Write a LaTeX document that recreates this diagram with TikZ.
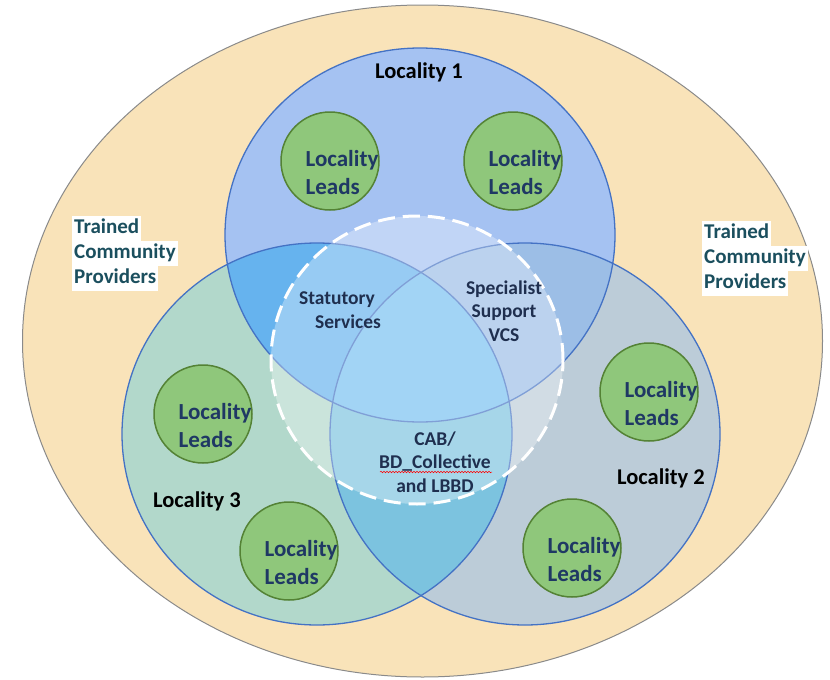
\documentclass[tikz,border=0pt]{standalone}
\usepackage{fontspec}
\setmainfont{Carlito}
\usetikzlibrary{decorations.pathmorphing}
\definecolor{outerfill}{HTML}{F9E3B9}
\definecolor{outerline}{HTML}{8A8A8A}
\definecolor{conly}{HTML}{A5C2F2}
\definecolor{tonly}{HTML}{B2D8CB}
\definecolor{bonly}{HTML}{BCCCD8}
\definecolor{cot}{HTML}{66B3EE}
\definecolor{cob}{HTML}{9CBEE6}
\definecolor{tob}{HTML}{7CC3DF}
\definecolor{tri}{HTML}{77C0F1}
\definecolor{ringline}{HTML}{4472C4}
\definecolor{leadfill}{HTML}{8FC77B}
\definecolor{leadline}{HTML}{548235}
\definecolor{navy}{HTML}{1F3864}
\definecolor{teal}{HTML}{1B4F5E}
\definecolor{darklab}{HTML}{1F2F4F}
\tikzset{
  pA/.style={insert path={(420,235) ellipse [x radius=195pt, y radius=187pt]}},
  pB/.style={insert path={(525,434) ellipse [x radius=195pt, y radius=191pt]}},
  pC/.style={insert path={(317,434) ellipse [x radius=195pt, y radius=191pt]}},
  pD/.style={insert path={(417,360) ellipse [x radius=146pt, y radius=144pt]}},
  leadcirc/.style={circle, minimum size=98pt, inner sep=0pt, fill=leadfill, draw=leadline, line width=1.5pt},
  leadtxt/.style={align=left, inner sep=0pt, text=navy, font=\fontsize{23}{28}\selectfont\bfseries},
  loctxt/.style={inner sep=0pt, text=black, font=\fontsize{22.5}{26}\selectfont\bfseries},
  midtxt/.style={align=center, inner sep=0pt, text=darklab, font=\fontsize{19.5}{23.5}\selectfont\bfseries},
  hl/.style={anchor=west, fill=white, inner xsep=2pt, inner ysep=2pt, text height=16pt, text depth=5pt, text=teal, font=\fontsize{21}{25}\selectfont\bfseries},
  ring/.style={draw=ringline, line width=1.3pt}
}
\begin{document}
\begin{tikzpicture}[x=1pt,y=-1pt]
\useasboundingbox (0,0) rectangle (830,680);
% outer ellipse
\path[fill=outerfill, draw=outerline, line width=1pt] (422.5,341) ellipse [x radius=400pt, y radius=336pt];
% single regions
\fill[tonly][pC];
\fill[bonly][pB];
\fill[conly][pA];
% pairwise and triple
\begin{scope}
  \clip[pB];
  \fill[tob][pC];
\end{scope}
\begin{scope}
  \clip[pA];
  \fill[cot][pC];
  \fill[cob][pB];
  \clip[pC];
  \fill[tri][pB];
\end{scope}
% borders
\draw[ring][pC];
\draw[ring][pB];
\draw[ring][pA];
% dashed central circle
\fill[white, opacity=0.32][pD];
\draw[white, line width=3pt, dash pattern=on 17pt off 8pt][pD];
% locality leads
\node[leadcirc] (l1) at (330,161) {};
\node[leadcirc] (l2) at (513,161) {};
\node[leadcirc] (l3) at (203,414) {};
\node[leadcirc] (l4) at (289,551) {};
\node[leadcirc] (l5) at (649,392) {};
\node[leadcirc] (l6) at (572,548) {};
\node[leadtxt] (t1) at ([shift={(12,12)}]l1.center) {Locality\\Leads};
\node[leadtxt] (t2) at ([shift={(12,12)}]l2.center) {Locality\\Leads};
\node[leadtxt] (t3) at ([shift={(12,12)}]l3.center) {Locality\\Leads};
\node[leadtxt] (t4) at ([shift={(12,12)}]l4.center) {Locality\\Leads};
\node[leadtxt] (t5) at ([shift={(12,12)}]l5.center) {Locality\\Leads};
\node[leadtxt] (t6) at ([shift={(12,12)}]l6.center) {Locality\\Leads};
% locality labels
\node[loctxt] (loc1) at (419,72) {Locality 1};
\node[loctxt] (loc3) at (197,501) {Locality 3};
\node[loctxt] (loc2) at (661,478) {Locality 2};
% central labels
\node[midtxt, align=left] (stat) at (340,310) {Statutory\\\hspace*{16pt}Services};
\node[midtxt] (spec) at (504,311) {Specialist\\Support\\VCS};
\node[midtxt] (cab) at (435,462) {CAB/\\BD\_Collective\\and LBBD};
\draw[red, line width=0.5pt, decorate, decoration={snake, amplitude=0.8pt, segment length=3pt}] (380,472) -- (492,472);
% trained community providers
\node[hl] (tl1) at (72,228) {Trained};
\node[hl] (tl2) at (72,253) {Community};
\node[hl] (tl3) at (72,278) {Providers};
\node[hl] (tr1) at (702,233) {Trained};
\node[hl] (tr2) at (702,258) {Community};
\node[hl] (tr3) at (702,283) {Providers};
\end{tikzpicture}
\end{document}
